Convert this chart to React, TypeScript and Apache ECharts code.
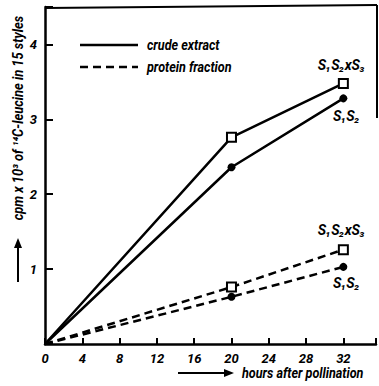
import React, { useEffect, useRef } from "react";
import * as echarts from "echarts";

const hours = [0, 20, 32];
const crudeS1S2xS3 = [0, 2.76, 3.48];
const crudeS1S2 = [0, 2.36, 3.28];
const proteinS1S2xS3 = [0, 0.76, 1.26];
const proteinS1S2 = [0, 0.63, 1.03];
const xTicks = [0, 4, 8, 12, 16, 20, 24, 28, 32];
const yTicks = [1, 2, 3, 4];
const legendLabels = ["crude extract", "protein fraction"];
const yTitle = "cpm x 10³ of ¹⁴C-leucine in 15 styles";
const xTitle = "hours after pollination";
const lblCross = "S₁S₂xS₃";
const lblSelf = "S₁S₂";

const FONT = "Roboto, 'Liberation Sans', sans-serif";

function mk(vals: number[], lastLabel: string, pos: string, dist: number, offset: number[]) {
  return vals.map((v, i) => {
    const item: any = { value: [hours[i], v] };
    if (i === 0) item.symbol = "none";
    if (i === vals.length - 1) {
      item.label = {
        show: true,
        position: pos,
        distance: dist,
        offset,
        formatter: lastLabel,
        color: "#000",
        fontFamily: FONT,
        fontWeight: "bold",
        fontStyle: "italic",
        fontSize: 14,
      };
    }
    return item;
  });
}

export default function App() {
  const ref = useRef<HTMLDivElement>(null);
  useEffect(() => {
    document.body.style.margin = "0";
    const chart = echarts.init(ref.current!, undefined, { renderer: "svg" });
    const lineStyleSolid = { color: "#000", width: 2.5, type: "solid" as const };
    const lineStyleDash = { color: "#000", width: 2.5, type: [8, 5] as any };
    const sq = { symbol: "rect", symbolSize: 9, itemStyle: { color: "#fff", borderColor: "#000", borderWidth: 2 } };
    const dot = { symbol: "circle", symbolSize: 8, itemStyle: { color: "#000", borderColor: "#000", borderWidth: 0 } };
    const txt = { fill: "#000", fontFamily: FONT, fontWeight: "bold", fontStyle: "italic", fontSize: 14 };
    chart.setOption({
      animation: false,
      backgroundColor: "#fff",
      grid: { left: 45, top: 7, width: 332, height: 337 },
      xAxis: {
        type: "value",
        min: 0,
        max: 35.5,
        interval: 4,
        splitLine: { show: false },
        axisLine: { lineStyle: { color: "#000", width: 2.5 } },
        axisTick: { inside: true, length: 6, lineStyle: { color: "#000", width: 2 } },
        axisLabel: {
          color: "#000",
          fontFamily: FONT,
          fontWeight: "bold",
          fontStyle: "italic",
          fontSize: 13,
          margin: 8,
          formatter: (v: number) => (xTicks.includes(v) ? String(v) : ""),
        },
      },
      yAxis: {
        type: "value",
        min: 0,
        max: 4.5,
        interval: 1,
        splitLine: { show: false },
        axisLine: { lineStyle: { color: "#000", width: 2.5 } },
        axisTick: { inside: true, length: 8, lineStyle: { color: "#000", width: 2 } },
        axisLabel: {
          color: "#000",
          fontFamily: FONT,
          fontWeight: "bold",
          fontStyle: "italic",
          fontSize: 13,
          margin: 8,
          formatter: (v: number) => (yTicks.includes(v) ? String(v) : ""),
        },
      },
      series: [
        { type: "line", data: mk(crudeS1S2xS3, lblCross, "top", 6, [-2, 0]), lineStyle: lineStyleSolid, ...sq, z: 3 },
        { type: "line", data: mk(crudeS1S2, lblSelf, "bottom", 7, [3, 0]), lineStyle: lineStyleSolid, ...dot, z: 3 },
        { type: "line", data: mk(proteinS1S2xS3, lblCross, "top", 7, [-2, 0]), lineStyle: lineStyleDash, ...sq, z: 3 },
        { type: "line", data: mk(proteinS1S2, lblSelf, "bottom", 5, [3, 0]), lineStyle: lineStyleDash, ...dot, z: 3 },
      ],
      graphic: [
        { type: "line", shape: { x1: 45, y1: 8, x2: 377, y2: 5 }, style: { stroke: "#000", lineWidth: 2 } },
        { type: "line", shape: { x1: 377, y1: 5, x2: 377, y2: 118 }, style: { stroke: "#000", lineWidth: 2 } },
        { type: "line", shape: { x1: 80, y1: 45, x2: 138, y2: 45 }, style: { stroke: "#000", lineWidth: 2.5 } },
        { type: "line", shape: { x1: 80, y1: 67, x2: 138, y2: 67 }, style: { stroke: "#000", lineWidth: 2.5, lineDash: [8, 5] } },
        { type: "text", x: 147, y: 45, scaleX: 0.9, style: { ...txt, text: legendLabels[0], textVerticalAlign: "middle" } },
        { type: "text", x: 147, y: 67, scaleX: 0.9, style: { ...txt, text: legendLabels[1], textVerticalAlign: "middle" } },
        {
          type: "text",
          x: 18,
          y: 118,
          rotation: Math.PI / 2,
          scaleX: 0.92,
          style: { ...txt, text: yTitle, textAlign: "center", textVerticalAlign: "middle" },
        },
        { type: "line", shape: { x1: 18, y1: 282, x2: 18, y2: 246 }, style: { stroke: "#000", lineWidth: 2 } },
        { type: "polygon", shape: { points: [[14, 248], [22, 248], [18, 238]] }, style: { fill: "#000" } },
        { type: "line", shape: { x1: 178, y1: 373, x2: 226, y2: 373 }, style: { stroke: "#000", lineWidth: 2 } },
        { type: "polygon", shape: { points: [[224, 369], [224, 377], [234, 373]] }, style: { fill: "#000" } },
        { type: "text", x: 242, y: 373, scaleX: 0.9, style: { ...txt, text: xTitle, textVerticalAlign: "middle" } },
      ],
    });
    return () => chart.dispose();
  }, []);
  return <div ref={ref} style={{ position: "absolute", left: 0, top: 0, width: 379, height: 386 }} />;
}
